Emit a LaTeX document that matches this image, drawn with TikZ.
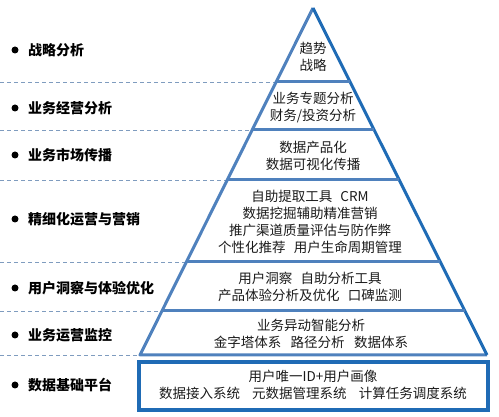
\documentclass[tikz,border=0pt]{standalone}
\usepackage{fontspec}
\setmainfont{Noto Sans CJK SC}
\definecolor{lblue}{HTML}{4F81BD}
\definecolor{dblue}{HTML}{1F6BB5}
\definecolor{dashc}{HTML}{7F9CBF}
\definecolor{txt}{HTML}{1A1A1A}
\begin{document}
\begin{tikzpicture}[x=1pt,y=-1pt,
  lbl/.style={anchor=west,font=\fontsize{14}{16}\selectfont\bfseries,text=black,inner sep=0pt},
  dot/.style={circle,fill=black,minimum size=7pt,inner sep=0pt},
  layer/.style={align=center,font=\fontsize{13.5}{17}\selectfont,text=txt,inner sep=0pt},
  sep/.style={draw=dashc,dashed,dash pattern=on 4pt off 3pt,line width=0.8pt},
  edge/.style={line width=3pt,line join=round}]
\useasboundingbox (0,0) rectangle (499,417);
% pyramid corners
\coordinate (apex) at (313,8);
\coordinate (bl) at (140,355);
\coordinate (br) at (487,355);
% divider ends
\foreach \n/\y in {a/82,b/130,c/180,d/262,e/311}{
  \pgfmathsetmacro{\hw}{0.5*(\y-8)}
  \coordinate (\n L) at ({313-\hw},\y);
  \coordinate (\n R) at ({313+\hw},\y);
}
% left dashed separators
\foreach \n/\y in {a/82,b/130,c/180,d/262,e/311}{
  \coordinate (\n S) at (0,\y);
  \draw[sep] (\n S) -- (\n L);
}
\coordinate (fS) at (0,355);
\draw[sep] (fS) -- (bl);
% pyramid
\draw[edge,draw=lblue] (apex) -- (bl) -- (br);
\draw[edge,draw=dblue] (apex) -- (br);
\foreach \n in {a,b,c,d,e}{
  \draw[edge,draw=lblue] (\n L) -- (\n R);
}
% bottom box
\coordinate (boxA) at (139,362);
\coordinate (boxB) at (488,410);
\draw[line width=3.2pt,draw=dblue] (boxA) rectangle (boxB);
% left labels
\foreach \n/\y/\t in {l1/50/战略分析,l2/108/业务经营分析,l3/155/业务市场传播,l4/219/精细化运营与营销,l5/288/用户洞察与体验优化,l6/335/业务运营监控,l7/385/数据基础平台}{
  \node[dot] (\n d) at (15,\y) {};
  \node[lbl] (\n) at (28,\y) {\t};
}
% layer texts
\node[layer] (t1) at (313,56.5) {趋势\\战略};
\node[layer] (t2) at (313,107.5) {业务专题分析\\财务/投资分析};
\node[layer] (t3) at (313,155.5) {数据产品化\\数据可视化传播};
\node[layer] (t4) at (310,221.5) {自助提取工具\hspace{0.6em}CRM\\数据挖掘辅助精准营销\\推广渠道质量评估与防作弊\\个性化推荐\hspace{0.6em}用户生命周期管理};
\node[layer] (t5) at (310,286.5) {用户洞察\hspace{0.6em}自助分析工具\\产品体验分析及优化\hspace{0.6em}口碑监测};
\node[layer] (t6) at (311,334) {业务异动智能分析\\金字塔体系\hspace{0.7em}路径分析\hspace{0.7em}数据体系};
\node[layer] (t7) at (313,385) {用户唯一ID+用户画像\\数据接入系统\hspace{0.9em}元数据管理系统\hspace{0.9em}计算任务调度系统};
\end{tikzpicture}
\end{document}
